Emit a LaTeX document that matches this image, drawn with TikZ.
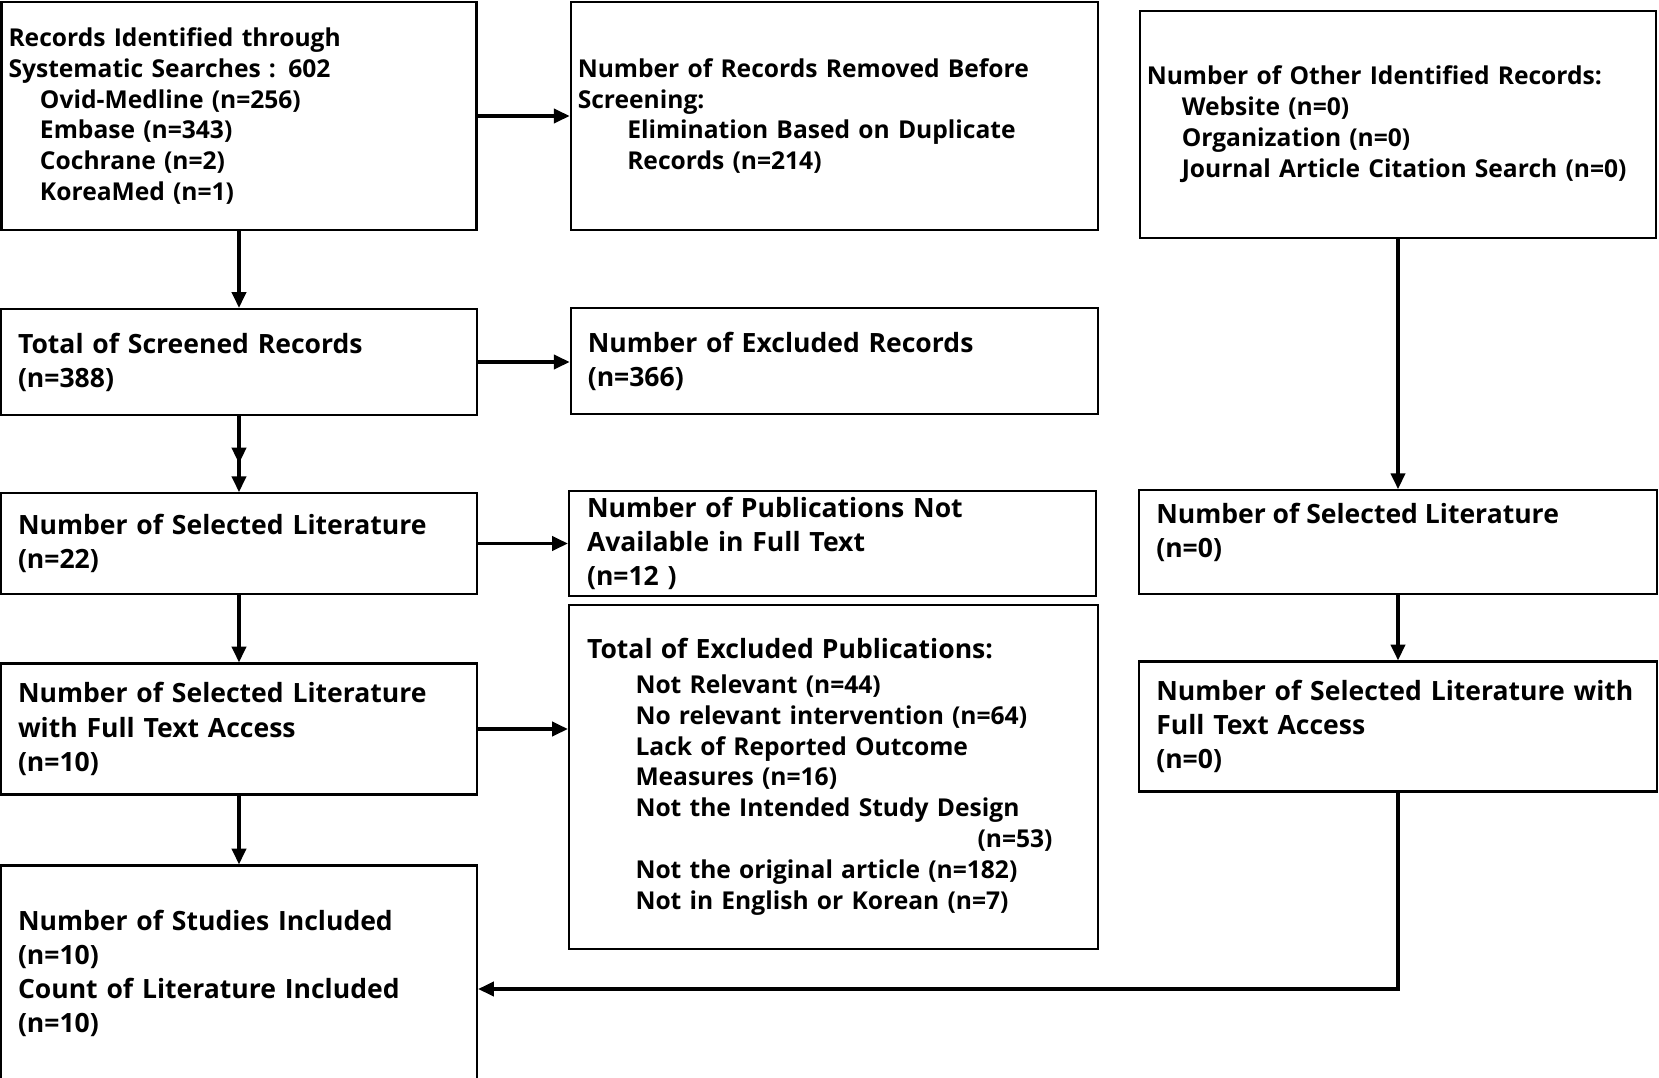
\documentclass[tikz,border=0pt]{standalone}
\usepackage{fontspec}
\setmainfont{Open Sans}
\usetikzlibrary{arrows.meta}
\begin{document}
\begin{tikzpicture}[>={Triangle[length=9pt,width=8pt]},
  box/.style={draw,line width=1.2pt,align=left,inner ysep=0pt,inner xsep=0.34cm,
    font=\fontsize{15.1}{19.4}\selectfont\bfseries},
  topbox/.style={box,inner xsep=0.14cm,font=\fontsize{14}{17.6}\selectfont\bfseries},
  arr/.style={->,line width=2pt}]
\useasboundingbox (0,0) rectangle (33.18,-21.54);
\node[topbox,text width=9.22cm,minimum height=4.55cm] (rec) at (4.78,-2.32)
  {Records Identified through\\Systematic Searches : 602\\
   \hspace*{0.63cm}Ovid-Medline (n=256)\\\hspace*{0.63cm}Embase (n=343)\\
   \hspace*{0.63cm}Cochrane (n=2)\\\hspace*{0.63cm}KoreaMed (n=1)};
\node[topbox,text width=10.27cm,minimum height=4.55cm] (rem) at (16.69,-2.32)
  {Number of Records Removed Before\\Screening:\\
   \hspace*{0.99cm}Elimination Based on Duplicate\\\hspace*{0.99cm}Records (n=214)};
\node[topbox,text width=10.05cm,minimum height=4.55cm] (oth) at (27.96,-2.49)
  {Number of Other Identified Records:\\\hspace*{0.7cm}Website (n=0)\\
   \hspace*{0.7cm}Organization (n=0)\\\hspace*{0.7cm}Journal Article Citation Search (n=0)};
\node[box,text width=8.84cm,minimum height=2.12cm] (scr) at (4.78,-7.24)
  {Total of Screened Records\\(n=388)};
\node[box,text width=9.87cm,minimum height=2.12cm] (exr) at (16.69,-7.22)
  {Number of Excluded Records\\(n=366)};
\node[box,text width=8.84cm,minimum height=2.01cm] (sel) at (4.78,-10.87)
  {Number of Selected Literature\\(n=22)};
\node[box,text width=9.82cm,minimum height=2.09cm,inner xsep=0.36cm] (nft) at (16.65,-10.87)
  {Number of Publications Not\\Available in Full Text\\(n=12 )};
\node[box,text width=9.86cm,minimum height=6.88cm,inner xsep=0.36cm,
  font=\fontsize{14}{17.6}\selectfont\bfseries] (exp) at (16.67,-15.54)
  {{\fontsize{15.1}{19.4}\selectfont Total of Excluded Publications:}\\[0.07cm]
   \hspace*{0.97cm}Not Relevant (n=44)\\
   \hspace*{0.97cm}No relevant intervention (n=64)\\
   \hspace*{0.97cm}Lack of Reported Outcome\\
   \hspace*{0.97cm}Measures (n=16)\\
   \hspace*{0.97cm}Not the Intended Study Design\\
   \hspace*{\fill}(n=53)\hspace*{0.55cm}\null\\
   \hspace*{0.97cm}Not the original article (n=182)\\
   \hspace*{0.97cm}Not in English or Korean (n=7)};
\node[box,minimum height=2.07cm] (oth0) at (27.96,-10.84)
  {\begin{minipage}[c][1.55cm][t]{9.67cm}\raggedright
   Number of Selected Literature\\(n=0)\end{minipage}};
\node[box,text width=8.84cm,minimum height=2.62cm] (selft) at (4.78,-14.58)
  {Number of Selected Literature\\with Full Text Access\\(n=10)};
\node[box,text width=9.67cm,minimum height=2.60cm] (othft) at (27.96,-14.53)
  {Number of Selected Literature with\\Full Text Access\\(n=0)};
\node[box,text width=8.84cm,minimum height=4.32cm] (inc) at (4.78,-19.47)
  {Number of Studies Included\\(n=10)\\Count of Literature Included\\(n=10)};
\draw[arr] (rec) -- (rem);
\draw[arr] (rec) -- (scr);
\draw[arr] (scr.east) -- (scr.east -| exr.west);
\draw[arr] (scr.south) -- ++(0,-0.95);
\draw[arr] (scr) -- (sel);
\draw[arr] (sel.east) -- (sel.east -| nft.west);
\draw[arr] (sel) -- (selft);
\draw[arr] (selft.east) -- (selft.east -| exp.west);
\draw[arr] (selft) -- (inc);
\draw[arr] (oth) -- (oth0);
\draw[arr] (oth0) -- (othft);
\draw[arr] (othft.south) |- ([yshift=-0.31cm]inc.east);
\end{tikzpicture}
\end{document}
